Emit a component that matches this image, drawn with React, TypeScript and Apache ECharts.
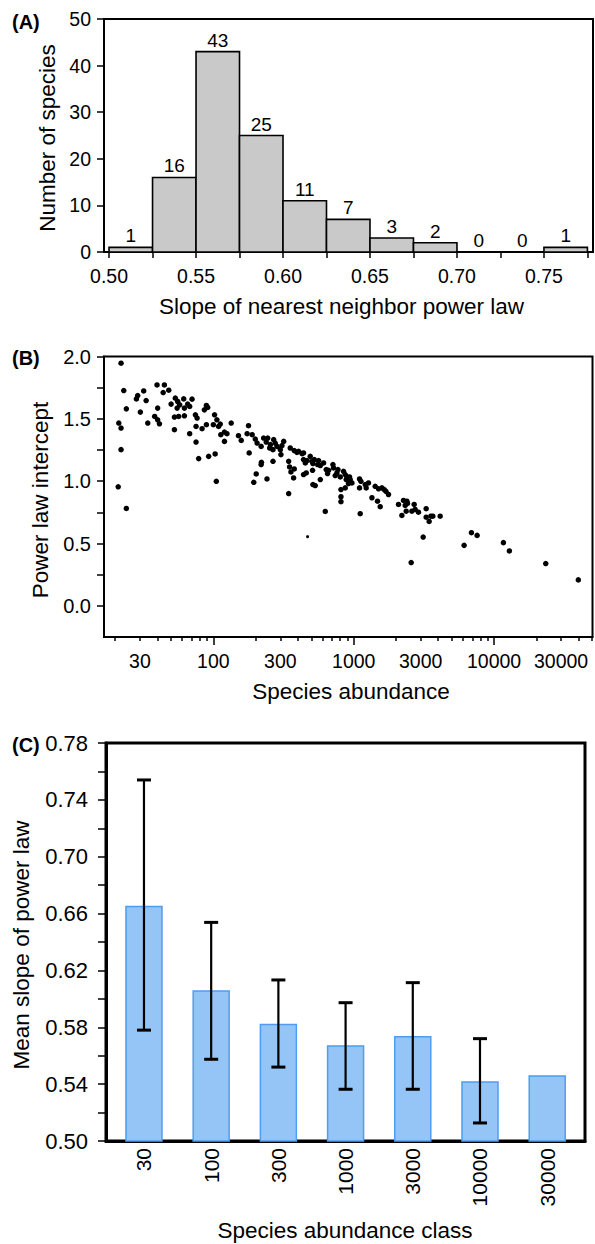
import React, { useEffect, useRef } from "react";
import * as echarts from "echarts";

const FONT = "'Liberation Sans', Arial, Helvetica, sans-serif";

// Panel A: histogram of power-law slopes
const slopeBinStarts = [0.5, 0.525, 0.55, 0.575, 0.6, 0.625, 0.65, 0.675, 0.7, 0.725, 0.75];
const slopeBinWidth = 0.025;
const speciesCounts = [1, 16, 43, 25, 11, 7, 3, 2, 0, 0, 1];
const slopeTickLabels = [0.5, 0.55, 0.6, 0.65, 0.7, 0.75];
const slopeTicks = [0.5, 0.525, 0.55, 0.575, 0.6, 0.625, 0.65, 0.675, 0.7, 0.725, 0.75, 0.775];

// Panel B: intercept vs abundance
const abundance = [
  22, 23, 24, 21.2, 22, 22, 28.3, 28.9, 31.9, 33.2, 30.2, 34.1, 38.2, 40.1, 39.7, 44.8, 43.9, 48.1, 40.1, 41.3,
  52.8, 50, 53.6, 55.7, 57.6, 55.2, 52.8, 56.6, 61.5, 62.2, 65.6, 67.8, 70.5, 62.2, 67.8, 75.3, 75.3, 74.5, 76.6, 78.6,
  83.1, 86.3, 89.2, 91.1, 89.2, 92.6, 102, 103, 100, 106, 109, 112, 113, 120, 120, 125, 134, 151, 158, 174,
  178, 180, 21, 24, 105, 194, 202, 219, 220, 241, 266, 344, 349, 357, 373, 344, 189, 199, 205, 219,
  228, 244, 238, 255, 252, 269, 276, 284, 266, 300, 308, 317, 303, 353, 377, 394, 428, 377, 439, 465,
  452, 490, 504, 524, 562, 512, 553, 509, 578, 610, 578, 512, 532, 637, 662, 651, 711, 718, 759, 738,
  772, 802, 846, 870, 895, 884, 934, 944, 918, 870, 811, 811, 971, 1100, 1125, 1100, 1208, 1227, 1274, 1422,
  1587, 1649, 1696, 1769, 1348, 405, 439, 439, 459, 627, 811, 1112, 1502, 1477, 1544, 2262, 2391, 2415, 2695, 2326,
  2203, 2364, 2595, 2740, 2892, 3281, 3281, 3544, 3662, 3446, 4128, 3124, 2566, 6893, 7568, 6116, 11650, 12850, 23330, 39810,
  2084,
];
const intercept = [
  1.946, 1.727, 1.58, 1.466, 1.426, 1.253, 1.66, 1.687, 1.724, 1.647, 1.554, 1.466, 1.519, 1.586, 1.772, 1.772, 1.711, 1.73, 1.492, 1.46,
  1.413, 1.618, 1.666, 1.639, 1.612, 1.586, 1.514, 1.519, 1.66, 1.586, 1.618, 1.599, 1.658, 1.524, 1.381, 1.439, 1.314, 1.532, 1.506, 1.181,
  1.421, 1.572, 1.607, 1.591, 1.453, 1.199, 1.532, 1.218, 1.453, 1.492, 1.439, 1.458, 1.373, 1.394, 1.319, 1.381, 1.466, 1.365, 1.327, 1.381,
  1.445, 1.226, 0.955, 0.781, 0.999, 0.991, 1.058, 1.133, 1.151, 1.018, 1.159, 1.159, 1.114, 1.074, 1.026, 0.901, 1.373, 1.338, 1.306, 1.279,
  1.346, 1.346, 1.314, 1.293, 1.266, 1.333, 1.306, 1.279, 1.253, 1.253, 1.285, 1.319, 1.213, 1.266, 1.245, 1.231, 1.221, 1.098, 1.173, 1.165,
  1.146, 1.199, 1.159, 1.173, 1.165, 1.141, 1.133, 1.087, 1.125, 1.146, 1.013, 0.973, 0.965, 1.093, 1.087, 1.061, 1.133, 1.106, 1.066, 1.045,
  1.093, 1.034, 1.079, 1.053, 1.034, 1.013, 1.034, 1.013, 0.981, 0.946, 0.933, 0.875, 0.986, 1.018, 0.999, 0.946, 0.973, 0.946, 0.986, 0.959,
  0.946, 0.933, 0.919, 0.893, 0.867, 1.239, 1.226, 1.053, 1.066, 0.757, 0.835, 0.739, 0.939, 0.839, 0.795, 0.845, 0.839, 0.821, 0.813, 0.805,
  0.725, 0.759, 0.759, 0.773, 0.751, 0.779, 0.711, 0.719, 0.719, 0.677, 0.719, 0.552, 0.347, 0.587, 0.565, 0.485, 0.507, 0.44, 0.339, 0.208,
  0.813,
];
const smallAbundance = [469];
const smallIntercept = [0.555];
const abundanceTickLabels = [30, 100, 300, 1000, 3000, 10000, 30000];
const abundanceDecades = [100, 1000, 10000];
const interceptTickLabels = [0, 0.5, 1, 1.5, 2];
const interceptTicks = [0, 0.25, 0.5, 0.75, 1, 1.25, 1.5, 1.75, 2];

// Panel C: mean slope by abundance class
const abundanceClasses = ["30", "100", "300", "1000", "3000", "10000", "30000"];
const meanSlope = [0.665, 0.6055, 0.582, 0.5668, 0.5734, 0.5415, 0.5457];
const slopeLow = [0.578, 0.5575, 0.552, 0.5364, 0.5364, 0.5127, null];
const slopeHigh = [0.754, 0.6538, 0.6133, 0.5973, 0.6114, 0.572, null];
const meanSlopeTickLabels = [0.5, 0.54, 0.58, 0.62, 0.66, 0.7, 0.74, 0.78];
const meanSlopeTicks = [0.5, 0.52, 0.54, 0.56, 0.58, 0.6, 0.62, 0.64, 0.66, 0.68, 0.7, 0.72, 0.74, 0.76, 0.78];

function minorAbundanceTicks(): number[] {
  const out: number[] = [];
  for (let d = 10; d <= 10000; d *= 10) {
    for (let m = 2; m <= 9; m++) {
      const v = m * d;
      if (v <= 50000) out.push(Math.log10(v));
    }
  }
  return out;
}

export default function App() {
  const ref = useRef<HTMLDivElement>(null);
  useEffect(() => {
    if (!ref.current) return;
    const chart = echarts.init(ref.current, undefined, { renderer: "svg" });
    const black = "#000";
    const tickLabel = (size: number) => ({ color: black, fontSize: size, fontFamily: FONT });
    const axisLineStyle = (w: number) => ({ show: true, onZero: false, lineStyle: { color: black, width: w } });

    const histData = slopeBinStarts.map((s, i) => [s, s + slopeBinWidth, speciesCounts[i]]);
    const scatterData = abundance.map((a, i) => [Math.log10(a), intercept[i]]);
    const smallData = smallAbundance.map((a, i) => [Math.log10(a), smallIntercept[i]]);
    const barData = meanSlope.map((m, i) => [i, m]);
    const errData: number[][] = [];
    slopeLow.forEach((lo, i) => {
      if (lo != null && slopeHigh[i] != null) errData.push([i, meanSlope[i], lo as number, slopeHigh[i] as number]);
    });

    const option: any = {
      animation: false,
      textStyle: { fontFamily: FONT },
      grid: [
        { left: 104, top: 19, width: 489, height: 233, show: true, borderColor: black, borderWidth: 2, backgroundColor: "transparent", outerBoundsMode: "none", containLabel: false },
        { left: 104, top: 356.5, width: 488.5, height: 280.5, show: true, borderColor: black, borderWidth: 2, backgroundColor: "transparent", outerBoundsMode: "none", containLabel: false },
        { left: 106, top: 743, width: 479, height: 398, show: true, borderColor: black, borderWidth: 3, backgroundColor: "transparent", outerBoundsMode: "none", containLabel: false },
      ],
      xAxis: [
        {
          type: "value", gridIndex: 0, min: 0.4971, max: 0.7782, position: "bottom",
          splitLine: { show: false },
          axisLine: axisLineStyle(2),
          axisTick: { show: true, customValues: slopeTicks, length: 6, lineStyle: { color: black, width: 1.5 } },
          axisLabel: { ...tickLabel(19.5), margin: 14, customValues: slopeTickLabels, formatter: (v: number) => v.toFixed(2) },
        },
        {
          type: "value", gridIndex: 1, min: 1.221, max: 4.701, position: "bottom",
          splitLine: { show: false },
          axisLine: axisLineStyle(2),
          axisTick: { show: true, customValues: minorAbundanceTicks(), length: 4, lineStyle: { color: black, width: 1.5 } },
          axisLabel: {
            ...tickLabel(19.5), margin: 14,
            customValues: abundanceTickLabels.map((v) => Math.log10(v)),
            formatter: (v: number) => String(Math.round(Math.pow(10, v))),
          },
        },
        {
          type: "value", gridIndex: 1, min: 1.221, max: 4.701, position: "bottom", offset: 0,
          splitLine: { show: false },
          axisLine: { show: false, onZero: false },
          axisTick: { show: true, customValues: abundanceDecades.map((v) => Math.log10(v)), length: 8, lineStyle: { color: black, width: 1.5 } },
          axisLabel: { show: false },
        },
        {
          type: "value", gridIndex: 2, min: -0.565, max: 6.5625, position: "bottom",
          splitLine: { show: false },
          axisLine: axisLineStyle(3),
          axisTick: { show: false },
          axisLabel: {
            ...tickLabel(21), margin: 7, rotate: 90,
            customValues: abundanceClasses.map((_, i) => i),
            formatter: (v: number) => abundanceClasses[Math.round(v)] ?? "",
          },
        },
      ],
      yAxis: [
        {
          type: "value", gridIndex: 0, min: 0, max: 50, interval: 10, position: "left",
          splitLine: { show: false },
          axisLine: axisLineStyle(2),
          axisTick: { show: true, length: 7, lineStyle: { color: black, width: 1.5 } },
          axisLabel: { ...tickLabel(19.5), margin: 13 },
        },
        {
          type: "value", gridIndex: 1, min: -0.25, max: 2, interval: 0.25, position: "left",
          splitLine: { show: false },
          axisLine: axisLineStyle(2),
          axisTick: { show: true, customValues: interceptTicks, length: 7, lineStyle: { color: black, width: 1.5 } },
          axisLabel: { ...tickLabel(20), margin: 13, customValues: interceptTickLabels, formatter: (v: number) => v.toFixed(1) },
        },
        {
          type: "value", gridIndex: 2, min: 0.5, max: 0.78, interval: 0.02, position: "left",
          splitLine: { show: false },
          axisLine: axisLineStyle(3),
          axisTick: { show: true, customValues: meanSlopeTicks, length: 8, lineStyle: { color: black, width: 1.5 } },
          axisLabel: { ...tickLabel(22), margin: 18, customValues: meanSlopeTickLabels, formatter: (v: number) => v.toFixed(2) },
        },
      ],
      series: [
        {
          type: "custom", xAxisIndex: 0, yAxisIndex: 0, data: histData,
          encode: { x: [0, 1], y: 2 },
          renderItem: (_p: any, api: any) => {
            const x0 = api.value(0), x1 = api.value(1), c = api.value(2);
            const tl = api.coord([x0, c]);
            const br = api.coord([x1, 0]);
            const children: any[] = [];
            if (c > 0) {
              children.push({
                type: "rect",
                shape: { x: tl[0], y: tl[1], width: br[0] - tl[0], height: br[1] - tl[1] },
                style: { fill: "#c9c9c9", stroke: black, lineWidth: 1.6 },
              });
            }
            children.push({
              type: "text", x: (tl[0] + br[0]) / 2, y: tl[1] - 2,
              style: { text: String(c), fill: black, fontSize: 19, fontFamily: FONT, align: "center", verticalAlign: "bottom" },
            });
            return { type: "group", children };
          },
        },
        {
          type: "scatter", xAxisIndex: 1, yAxisIndex: 1, data: scatterData,
          symbol: "circle", symbolSize: 5.5, itemStyle: { color: black, opacity: 1 },
        },
        {
          type: "scatter", xAxisIndex: 1, yAxisIndex: 1, data: smallData,
          symbol: "circle", symbolSize: 3, itemStyle: { color: black, opacity: 1 },
        },
        {
          type: "custom", xAxisIndex: 3, yAxisIndex: 2, data: barData,
          encode: { x: 0, y: 1 },
          renderItem: (_p: any, api: any) => {
            const i = api.value(0), m = api.value(1);
            const top = api.coord([i, m]);
            const base = api.coord([i, 0.5]);
            const w = 36;
            return {
              type: "rect",
              shape: { x: top[0] - w / 2, y: top[1], width: w, height: base[1] - top[1] },
              style: { fill: "#95c5f6", stroke: "#4f9df0", lineWidth: 1.5 },
            };
          },
        },
        {
          type: "custom", xAxisIndex: 3, yAxisIndex: 2, data: errData,
          encode: { x: 0, y: 1 },
          z: 5,
          renderItem: (_p: any, api: any) => {
            const i = api.value(0);
            const lo = api.coord([i, api.value(2)]);
            const hi = api.coord([i, api.value(3)]);
            const cx = lo[0];
            const cw = 7;
            return {
              type: "group",
              children: [
                { type: "rect", shape: { x: cx - 1.1, y: hi[1], width: 2.2, height: lo[1] - hi[1] }, style: { fill: black } },
                { type: "rect", shape: { x: cx - cw, y: hi[1] - 1.5, width: 2 * cw, height: 3 }, style: { fill: black } },
                { type: "rect", shape: { x: cx - cw, y: lo[1] - 1.5, width: 2 * cw, height: 3 }, style: { fill: black } },
              ],
            };
          },
        },
      ],
      graphic: [
        { type: "text", x: 12, y: 22, style: { text: "(A)", fontSize: 20, fontWeight: "bold", fontFamily: FONT, fill: black, align: "left", verticalAlign: "middle" } },
        { type: "text", x: 12, y: 358, style: { text: "(B)", fontSize: 20, fontWeight: "bold", fontFamily: FONT, fill: black, align: "left", verticalAlign: "middle" } },
        { type: "text", x: 12, y: 745, style: { text: "(C)", fontSize: 20, fontWeight: "bold", fontFamily: FONT, fill: black, align: "left", verticalAlign: "middle" } },
        { type: "text", x: 47, y: 138, rotation: Math.PI / 2, style: { text: "Number of species", fontSize: 22.5, fontFamily: FONT, fill: black, align: "center", verticalAlign: "middle" } },
        { type: "text", x: 341.5, y: 306, style: { text: "Slope of nearest neighbor power law", fontSize: 22.5, fontFamily: FONT, fill: black, align: "center", verticalAlign: "middle" } },
        { type: "text", x: 40, y: 500, rotation: Math.PI / 2, style: { text: "Power law intercept", fontSize: 22.5, fontFamily: FONT, fill: black, align: "center", verticalAlign: "middle" } },
        { type: "text", x: 351, y: 691, style: { text: "Species abundance", fontSize: 22.5, fontFamily: FONT, fill: black, align: "center", verticalAlign: "middle" } },
        { type: "text", x: 21, y: 945, rotation: Math.PI / 2, style: { text: "Mean slope of power law", fontSize: 22.5, fontFamily: FONT, fill: black, align: "center", verticalAlign: "middle" } },
        { type: "text", x: 345, y: 1230, style: { text: "Species abundance class", fontSize: 22.5, fontFamily: FONT, fill: black, align: "center", verticalAlign: "middle" } },
      ],
    };
    chart.setOption(option);
    return () => chart.dispose();
  }, []);

  return (
    <div
      ref={ref}
      style={{ position: "absolute", left: 0, top: 0, width: 595, height: 1244, background: "#fff" }}
    />
  );
}
